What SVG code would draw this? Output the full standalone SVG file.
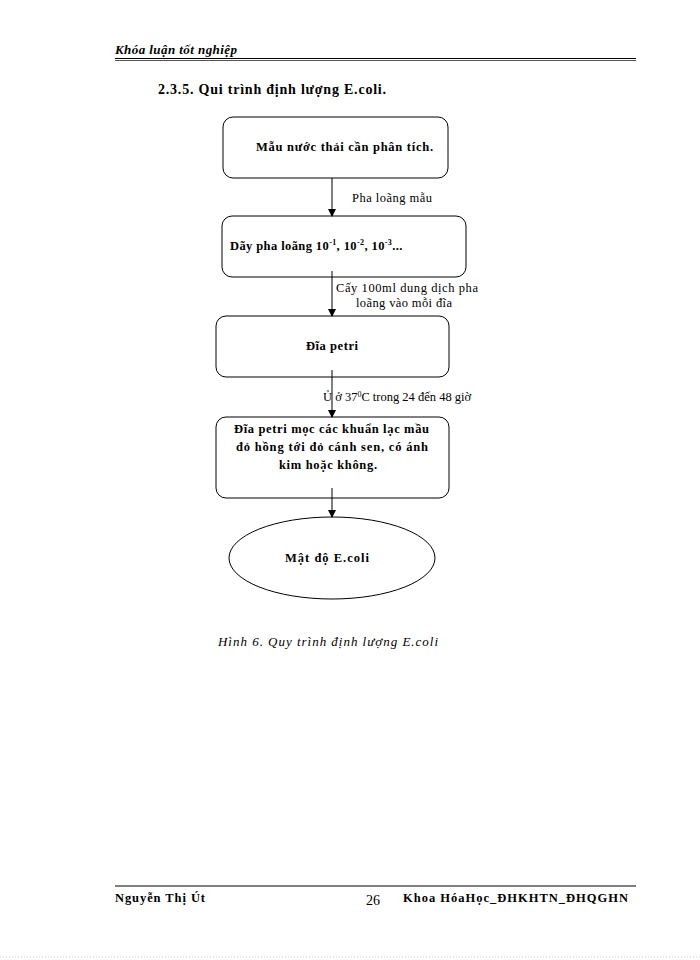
<svg xmlns="http://www.w3.org/2000/svg" width="700" height="960" viewBox="0 0 700 960">
<style>
text{font-family:"Liberation Serif",serif;fill:#000}
.b{font-weight:bold;font-size:12.5px}
.l{font-size:12.5px}
.n{fill:#fff;stroke:#000;stroke-width:1}
.c{stroke:#000;stroke-width:1;fill:none;marker-end:url(#a)}
</style>
<defs><marker id="a" markerWidth="8" markerHeight="8" refX="7" refY="4" orient="auto" markerUnits="userSpaceOnUse"><path d="M0,0L8,4L0,8z" fill="#000"/></marker></defs>
<rect width="700" height="960" fill="#fff"/>
<text x="115" y="54" font-size="13" font-weight="bold" font-style="italic" textLength="122">Khóa luận tốt nghiệp</text>
<line x1="115" y1="58.5" x2="636" y2="58.5" stroke="#000"/>
<line x1="115" y1="60.5" x2="636" y2="60.5" stroke="#555"/>
<text x="158" y="94" font-size="14" font-weight="bold" textLength="228">2.3.5. Qui trình định lượng E.coli.</text>
<g id="n1"><rect class="n" x="223" y="117" width="225" height="61" rx="10"/><text class="b" x="256" y="151" textLength="177">Mẫu nước thải cần phân tích.</text></g>
<g id="n2"><rect class="n" x="222" y="216" width="244" height="61" rx="10"/><text class="b" x="230" y="250" font-size="13.5" letter-spacing="0.4">Dãy pha loãng 10<tspan font-size="8" dy="-5">-1</tspan><tspan dy="5">,  10</tspan><tspan font-size="8" dy="-5">-2</tspan><tspan dy="5">,  10</tspan><tspan font-size="8" dy="-5">-3</tspan><tspan dy="5">...</tspan></text></g>
<g id="n3"><rect class="n" x="216" y="316" width="233" height="61" rx="10"/><text class="b" x="306" y="350" textLength="52">Đĩa petri</text></g>
<g id="n4"><rect class="n" x="216" y="417" width="233" height="81" rx="10"/><text class="b" x="234" y="433" textLength="195">Đĩa petri mọc các khuẩn lạc mầu</text><text class="b" x="236" y="451" textLength="192">đỏ hồng tới đỏ cánh sen, có ánh</text><text class="b" x="279" y="469" textLength="98">kim hoặc không.</text></g>
<g id="n5"><ellipse class="n" cx="332" cy="558" rx="103" ry="41"/><text class="b" x="285" y="562" textLength="84">Mật độ  E.coli</text></g>
<g id="edges">
<line class="c" x1="332" y1="178" x2="332" y2="216"/>
<line class="c" x1="332" y1="271" x2="332" y2="316"/>
<line class="c" x1="332" y1="370" x2="332" y2="417"/>
<line class="c" x1="332" y1="488" x2="332" y2="517"/>
<text class="l" x="352" y="202" textLength="80">Pha loãng mẫu</text>
<text class="l" x="336" y="292" textLength="142">Cấy 100ml dung dịch pha</text>
<text class="l" x="356" y="307" textLength="96">loãng vào mỗi đĩa</text>
<text class="l" x="323" y="401" font-size="13">Ủ ở 37<tspan font-size="8" dy="-4">0</tspan><tspan dy="4">C trong  24 đến 48 giờ</tspan></text>
</g>
<text x="218" y="646" font-size="13" font-style="italic" textLength="220">Hình 6. Quy trình định lượng E.coli</text>
<line x1="115" y1="886" x2="636" y2="886" stroke="#555" stroke-width="1.5"/>
<text x="115" y="902" font-size="12.5" font-weight="bold" textLength="90">Nguyễn Thị Út</text>
<text x="366" y="905" font-size="14">26</text>
<text x="403" y="902" font-size="12.5" font-weight="bold" textLength="225">Khoa HóaHọc_ĐHKHTN_ĐHQGHN</text>
<line x1="0" y1="957" x2="700" y2="957" stroke="#ccc" stroke-dasharray="1,2"/>
</svg>
